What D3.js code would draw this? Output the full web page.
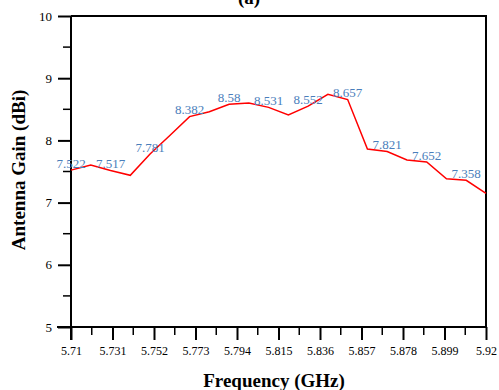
<!DOCTYPE html>
<html>
<head>
<meta charset="utf-8">
<script src="https://cdn.jsdelivr.net/npm/d3@7"></script>
<style>
  html, body { margin: 0; padding: 0; background: #fff; }
  svg { display: block; font-family: "Liberation Serif", "Times New Roman", serif; }
</style>
</head>
<body>
<svg id="chart" width="499" height="390"></svg>
<script>
// Measured gain across the band, one sample every 10 MHz
const frequencies = [5.71, 5.72, 5.73, 5.74, 5.75, 5.76, 5.77, 5.78, 5.79, 5.80, 5.81,
                     5.82, 5.83, 5.84, 5.85, 5.86, 5.87, 5.88, 5.89, 5.90, 5.91, 5.92];
const gains = [7.522, 7.605, 7.517, 7.439, 7.781, 8.08, 8.382, 8.46, 8.58, 8.60, 8.531,
               8.41, 8.552, 8.741, 8.657, 7.862, 7.821, 7.685, 7.652, 7.384, 7.358, 7.15];
// Samples that carry a value label (every 20 MHz)
const labelledIndex = [0, 2, 4, 6, 8, 10, 12, 14, 16, 18, 20];
// Axis ticks
const xTicks = [5.71, 5.731, 5.752, 5.773, 5.794, 5.815, 5.836, 5.857, 5.878, 5.899, 5.92];
const xTickLabels = ["5.71", "5.731", "5.752", "5.773", "5.794", "5.815", "5.836", "5.857", "5.878", "5.899", "5.92"];
const yTicks = [5, 6, 7, 8, 9, 10];

const svg = d3.select("#chart");
const plotLeft = 71, plotRight = 486, plotTop = 16, plotBottom = 327;

const x = d3.scaleLinear().domain([5.71, 5.92]).range([plotLeft, plotRight]);
const y = d3.scaleLinear().domain([5, 10]).range([plotBottom, plotTop]);

const xMinor = d3.range(xTicks.length - 1).map(i => (xTicks[i] + xTicks[i + 1]) / 2);
const yMinor = d3.range(yTicks.length - 1).map(i => yTicks[i] + 0.5);

// Frame (top and right edges)
svg.append("path")
  .attr("d", `M${plotLeft},${plotTop}H${plotRight}V${plotBottom}`)
  .attr("fill", "none").attr("stroke", "#000").attr("stroke-width", 2);

// X axis
const xAxis = svg.append("g").attr("transform", `translate(0,${plotBottom})`)
  .call(d3.axisBottom(x).tickValues(xTicks)
    .tickFormat((d, i) => xTickLabels[i]).tickSize(13).tickPadding(6));
xAxis.selectAll(".tick text").attr("font-size", 12).attr("fill", "#000")
  .attr("font-family", "Liberation Serif, serif");
xAxis.selectAll(".tick line").attr("stroke-width", 2);
xAxis.select(".domain").attr("stroke-width", 2).attr("d", `M${plotLeft - 14},0H${plotRight}`);
svg.append("g").attr("transform", `translate(0,${plotBottom})`)
  .selectAll("line").data(xMinor).join("line")
  .attr("x1", d => x(d)).attr("x2", d => x(d)).attr("y1", 0).attr("y2", 8)
  .attr("stroke", "#000").attr("stroke-width", 1.5);

// Y axis
const yAxis = svg.append("g").attr("transform", `translate(${plotLeft},0)`)
  .call(d3.axisLeft(y).tickValues(yTicks).tickFormat(d3.format("d")).tickSize(13).tickPadding(6));
yAxis.selectAll(".tick text").attr("font-size", 13).attr("fill", "#000")
  .attr("font-family", "Liberation Serif, serif");
yAxis.selectAll(".tick line").attr("stroke-width", 2);
yAxis.select(".domain").attr("stroke-width", 2).attr("d", `M0,${plotBottom + 13}V${plotTop}`);
svg.append("g").attr("transform", `translate(${plotLeft},0)`)
  .selectAll("line").data(yMinor).join("line")
  .attr("x1", -8).attr("x2", 0).attr("y1", d => y(d)).attr("y2", d => y(d))
  .attr("stroke", "#000").attr("stroke-width", 1.5);

// Gain curve
const line = d3.line().x((d, i) => x(frequencies[i])).y(d => y(d));
svg.append("path").datum(gains)
  .attr("d", line).attr("fill", "none").attr("stroke", "#ff0000").attr("stroke-width", 1.5);

// Value labels
svg.append("g").selectAll("text").data(labelledIndex).join("text")
  .attr("x", i => x(frequencies[i]))
  .attr("y", i => y(gains[i]) - 2.5)
  .attr("text-anchor", "middle")
  .attr("font-size", 13)
  .attr("fill", "#4a7ebb")
  .text(i => String(gains[i]));

// Titles
svg.append("text").attr("x", 249).attr("y", 4).attr("text-anchor", "middle")
  .attr("font-size", 19).attr("font-weight", "bold").text("(a)");
svg.append("text").attr("x", 274).attr("y", 387).attr("text-anchor", "middle")
  .attr("font-size", 19).attr("font-weight", "bold").text("Frequency (GHz)");
svg.append("text").attr("transform", "translate(25,170) rotate(-90)")
  .attr("text-anchor", "middle")
  .attr("font-size", 19).attr("font-weight", "bold").text("Antenna Gain (dBi)");
</script>
</body>
</html>
